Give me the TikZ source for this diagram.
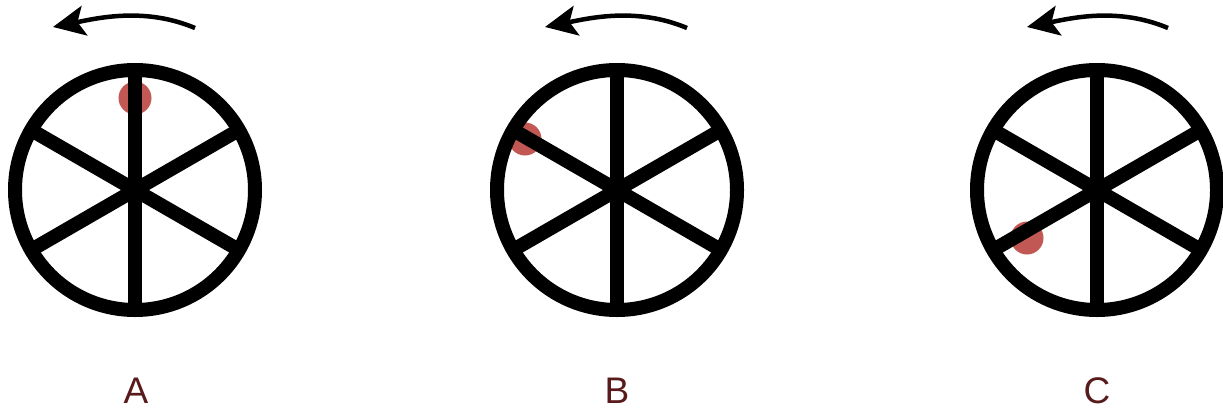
\documentclass[tikz,border=0pt]{standalone}
\usepackage{fontspec}
\setmainfont{Liberation Sans}
\usetikzlibrary{arrows.meta,calc}
\definecolor{dotred}{RGB}{194,88,84}
\definecolor{labelbrown}{RGB}{88,26,26}
\tikzset{
  rim/.style={line width=14pt, draw=black},
  spoke/.style={line width=14pt, draw=black, line cap=butt},
  marker/.style={circle, fill=dotred, draw=none, minimum size=33pt, inner sep=0pt},
  turn/.style={line width=4.5pt, -{Stealth[length=32pt,width=30pt,inset=7pt]}},
  lbl/.style={text=labelbrown, font=\fontsize{37}{40}\selectfont, inner sep=0pt},
  pics/wheel/.style={code={
    \foreach \a in {30,90,150,210,270,330}
      \draw[spoke] (0,0) -- (\a:118);
    \draw[rim] (0,0) circle (120);
  }}
}
\begin{document}
\begin{tikzpicture}[x=1pt,y=-1pt]
\useasboundingbox (0,0) rectangle (1223,410);
% markers (under the spokes)
\node[marker] (dA) at (135,98) {};
\node[marker] (dB) at (525,139) {};
\node[marker] (dC) at (1027,238) {};
% wheels
\pic at (135,190) {wheel};
\pic at (617,190) {wheel};
\pic at (1097,190) {wheel};
% rotation arrows
\coordinate (sA) at (195,28);
\coordinate (tA) at (53,27);
\coordinate (sB) at (687,28);
\coordinate (tB) at (545,27);
\coordinate (sC) at (1168,28);
\coordinate (tC) at (1027,27);
\draw[turn] (sA) .. controls ($(sA)+(-50,-21)$) and ($(tA)+(45,-9)$) .. (tA);
\draw[turn] (sB) .. controls ($(sB)+(-50,-21)$) and ($(tB)+(45,-9)$) .. (tB);
\draw[turn] (sC) .. controls ($(sC)+(-50,-21)$) and ($(tC)+(45,-9)$) .. (tC);
% labels
\node[lbl] (lA) at (136,391) {A};
\node[lbl] (lB) at (617,391) {B};
\node[lbl] (lC) at (1097,391) {C};
\end{tikzpicture}
\end{document}
